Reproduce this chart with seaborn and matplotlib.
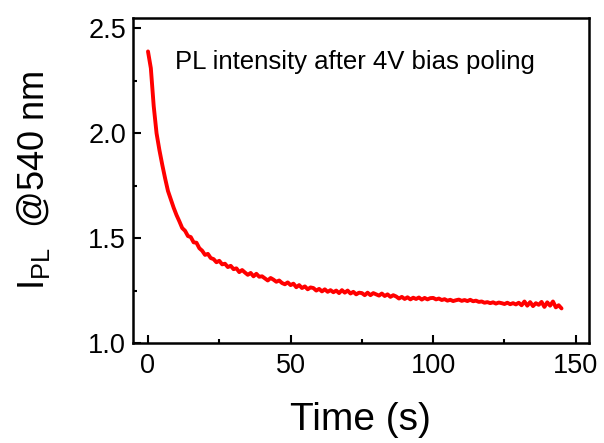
import numpy as np
import pandas as pd
import matplotlib
matplotlib.use("Agg")
import matplotlib.pyplot as plt
from matplotlib.ticker import MultipleLocator
import seaborn as sns

# PL intensity @540 nm, sampled every 1 s after poling
time_s = np.arange(0, 146)
intensity = [
    2.39, 2.31, 2.13, 2.00, 1.92, 1.85, 1.785, 1.725, 1.685, 1.645,
    1.61, 1.58, 1.548, 1.535, 1.51, 1.505, 1.48, 1.478, 1.452, 1.44,
    1.42, 1.425, 1.405, 1.40, 1.385, 1.392, 1.375, 1.378, 1.362, 1.368,
    1.352, 1.356, 1.338, 1.348, 1.336, 1.325, 1.334, 1.318, 1.33, 1.316,
    1.318, 1.308, 1.298, 1.31, 1.302, 1.292, 1.298, 1.286, 1.28, 1.289,
    1.276, 1.283, 1.266, 1.276, 1.262, 1.27, 1.256, 1.265, 1.262, 1.25,
    1.258, 1.246, 1.256, 1.244, 1.252, 1.242, 1.25, 1.238, 1.252, 1.24,
    1.25, 1.236, 1.244, 1.232, 1.24, 1.238, 1.228, 1.24, 1.228, 1.238,
    1.232, 1.226, 1.236, 1.224, 1.232, 1.22, 1.228, 1.222, 1.212, 1.22,
    1.21, 1.218, 1.208, 1.216, 1.21, 1.217, 1.207, 1.215, 1.208, 1.214,
    1.215, 1.208, 1.212, 1.205, 1.209, 1.202, 1.206, 1.2, 1.204, 1.207,
    1.201, 1.205, 1.2, 1.206, 1.199, 1.202, 1.196, 1.198, 1.192, 1.195,
    1.19, 1.194, 1.188, 1.193, 1.19, 1.186, 1.192, 1.185, 1.19, 1.184,
    1.192, 1.18, 1.198, 1.178, 1.195, 1.176, 1.19, 1.182, 1.196, 1.172,
    1.194, 1.178, 1.198, 1.17, 1.18, 1.165,
]
note_text = "PL intensity after 4V bias poling"

df = pd.DataFrame({"time": time_s, "ipl": intensity})

sns.set_style("ticks")
plt.rcParams['font.family'] = ['Liberation Sans', 'DejaVu Sans']
plt.rcParams['mathtext.fontset'] = 'custom'
plt.rcParams['mathtext.rm'] = 'Liberation Sans'
plt.rcParams['text.color'] = 'black'
plt.rcParams['axes.labelcolor'] = 'black'
plt.rcParams['xtick.color'] = 'black'
plt.rcParams['ytick.color'] = 'black'
plt.rcParams['axes.edgecolor'] = 'black'

fig = plt.figure(figsize=(6.04, 4.43), dpi=100)
ax = fig.add_axes([0.220, 0.2257, 0.755, 0.733])

sns.lineplot(data=df, x="time", y="ipl", color="#ff0000", linewidth=2.8, ax=ax)

ax.set_xlim(-5.3, 154.6)
ax.set_ylim(1.0, 2.548)
ax.xaxis.set_major_locator(MultipleLocator(50))
ax.xaxis.set_minor_locator(MultipleLocator(25))
ax.yaxis.set_major_locator(MultipleLocator(0.5))
ax.yaxis.set_minor_locator(MultipleLocator(0.25))
ax.tick_params(which='both', direction='in', width=1.5, labelsize=19.5)
ax.tick_params(which='major', length=6)
ax.tick_params(which='minor', length=3)
ax.tick_params(axis='x', pad=7)
ax.tick_params(axis='y', pad=5)
for s in ax.spines.values():
    s.set_linewidth(1.8)
    s.set_visible(True)

ax.set_xlabel("Time (s)", fontsize=28, labelpad=17)
ax.set_ylabel(r"I$_{\mathrm{PL}}$  @540 nm", fontsize=26, labelpad=26)

ax.text(9.5, 2.338, note_text, fontsize=18.5, va='center', ha='left')

fig.savefig("out.png", dpi=100)
